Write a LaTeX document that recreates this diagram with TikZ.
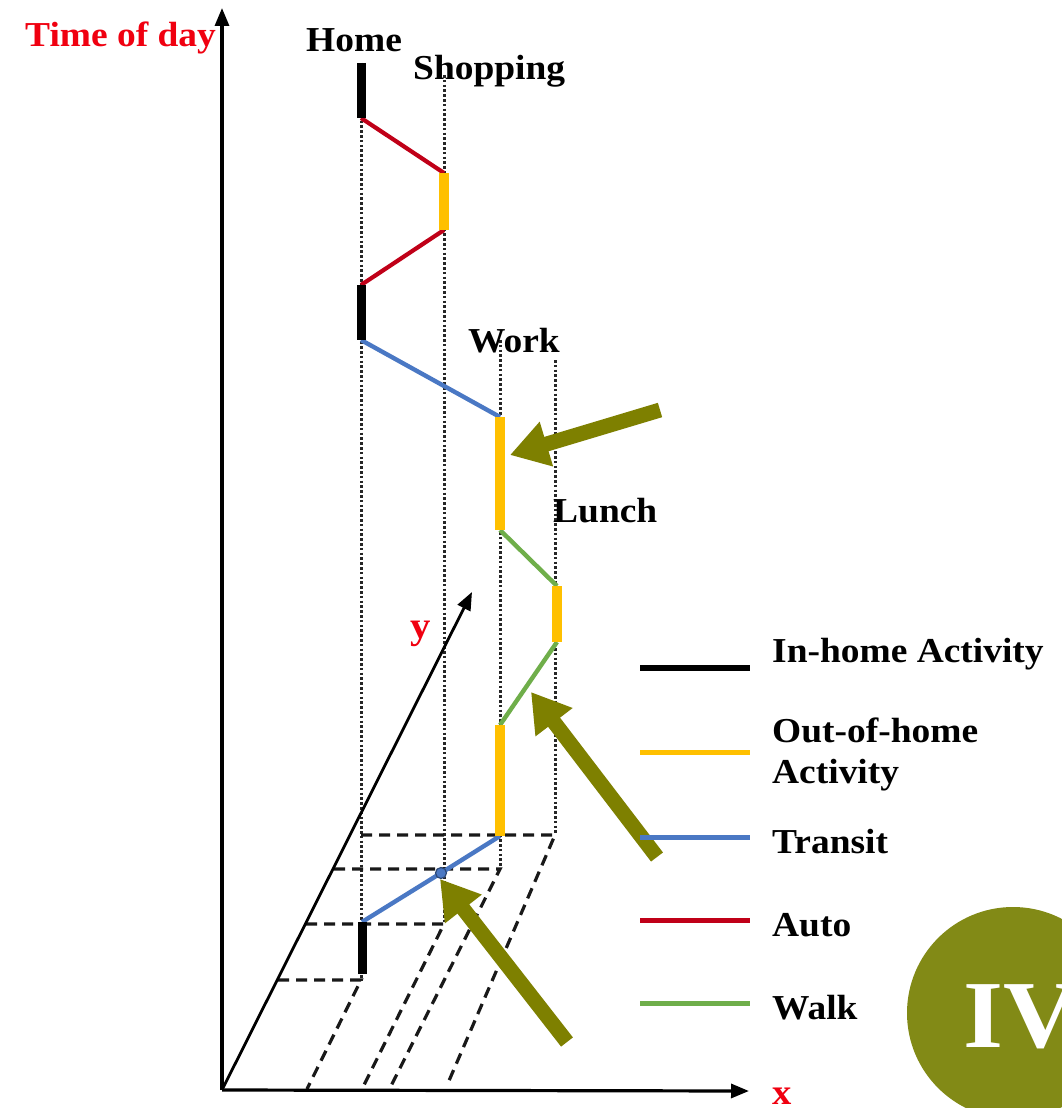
\documentclass[tikz,border=0pt]{standalone}
\usepackage{fontspec}
\usetikzlibrary{arrows.meta}
\newfontfamily\labfont{Liberation Serif}[FakeStretch=1.07]
\definecolor{autored}{HTML}{C00018}
\definecolor{transblue}{HTML}{4A78C4}
\definecolor{walkgreen}{HTML}{6FAE4A}
\definecolor{actyellow}{HTML}{FFC000}
\definecolor{olivearrow}{HTML}{7E8000}
\definecolor{olivecircle}{HTML}{828A16}
\definecolor{labred}{HTML}{F00010}
\tikzset{
  lab/.style={font=\labfont\bfseries\fontsize{35}{38}\selectfont, anchor=base west, inner sep=0pt},
  redlab/.style={lab, text=labred},
  axisline/.style={line width=3.2pt, -{Triangle[length=18pt,width=14pt]}},
  dotline/.style={line width=3pt, dash pattern=on 2.6pt off 2.2pt, black!85},
  dashline/.style={line width=3.2pt, dash pattern=on 11pt off 7pt, black!90},
  homebar/.style={line width=9pt, black},
  outbar/.style={line width=10pt, actyellow},
  autoleg/.style={line width=4.2pt, autored},
  transleg/.style={line width=4.4pt, transblue},
  walkleg/.style={line width=4.4pt, walkgreen},
  bigarrow/.style={line width=15pt, olivearrow, -{Triangle[length=38pt,width=44pt]}},
}
\begin{document}
\begin{tikzpicture}[x=1pt,y=-1pt]
\useasboundingbox (0,0) rectangle (1061,1108);
\fill[white] (0,0) rectangle (1061,1108);

% axes
\coordinate (O) at (222,1090);
\coordinate (Ytop) at (222,8);
\coordinate (Xend) at (749,1091);
\coordinate (Yend) at (472,592);

% dotted location lines
\coordinate (h0) at (361,63);   \coordinate (h9) at (361,980);
\coordinate (s0) at (444,75);   \coordinate (s9) at (444,924);
\coordinate (w0) at (500,340);  \coordinate (w9) at (500,869);
\coordinate (l0) at (555,360);  \coordinate (l9) at (555,835);
\draw[dotline] (h0) -- (h9);
\draw[dotline] (s0) -- (s9);
\draw[dotline] (w0) -- (w9);
\draw[dotline] (l0) -- (l9);

% dashed floor projections
\coordinate (ya) at (278,980);
\coordinate (yb) at (306,924);
\coordinate (yc) at (334,869);
\coordinate (yd) at (361,835);
\coordinate (xa) at (307,1089);
\coordinate (xb) at (362,1089);
\coordinate (xc) at (390,1088);
\coordinate (xd) at (448,1083);
\draw[dashline] (ya) -- (h9) -- (xa);
\draw[dashline] (yb) -- (s9) -- (xb);
\draw[dashline] (yc) -- (w9) -- (xc);
\draw[dashline] (yd) -- (l9) -- (xd);

% axes drawn over
\draw[axisline] (O) -- (Ytop);
\draw[axisline] (O) -- (Xend);
\draw[line width=2.8pt, -{Triangle[length=18pt,width=14pt]}] (O) -- (Yend);

% trip path points
\coordinate (p1) at (361,63);
\coordinate (p2) at (361,118);
\coordinate (p3) at (444,173);
\coordinate (p4) at (444,230);
\coordinate (p5) at (361,285);
\coordinate (p6) at (361,340);
\coordinate (p7) at (500,417);
\coordinate (p8) at (500,530);
\coordinate (p9) at (557,586);
\coordinate (p10) at (557,642);
\coordinate (p11) at (500,725);
\coordinate (p12) at (500,836);
\coordinate (pd) at (441,873);
\coordinate (p13) at (362,922);
\coordinate (p14) at (362,974);

% travel legs
\draw[autoleg] (p2) -- (p3);
\draw[autoleg] (p4) -- (p5);
\draw[transleg] (p6) -- (p7);
\draw[walkleg] (p8) -- (p9);
\draw[walkleg] (p10) -- (p11);
\draw[transleg] (p12) -- (pd) -- (p13);

% activity bars
\draw[homebar] (p1) -- (p2);
\draw[outbar] (p3) -- (p4);
\draw[homebar] (p5) -- (p6);
\draw[outbar] (p7) -- (p8);
\draw[outbar] (p9) -- (p10);
\draw[outbar] (p11) -- (p12);
\draw[homebar] (p13) -- (p14);

\fill[transblue, draw=transblue!60!black, line width=1.2pt] (pd) circle (5.5pt);

% labels
\node[redlab] (tod) at (25,47) {Time of day};
\node[lab] (home) at (306,52) {Home};
\node[lab] (shop) at (413,80) {Shopping};
\node[lab] (work) at (468,352) {Work};
\node[lab] (lunch) at (553,522) {Lunch};
\node[redlab, font=\labfont\bfseries\fontsize{38}{40}\selectfont] (ylab) at (410,638) {y};
\node[redlab, font=\labfont\bfseries\fontsize{36}{40}\selectfont] (xlab) at (772,1104) {x};

% highlight arrows
\coordinate (a1s) at (660,410); \coordinate (a1e) at (510,455);
\coordinate (a2s) at (657,857); \coordinate (a2e) at (531,692);
\coordinate (a3s) at (567,1042); \coordinate (a3e) at (440,879);
\draw[bigarrow] (a1s) -- (a1e);
\draw[bigarrow] (a2s) -- (a2e);
\draw[bigarrow] (a3s) -- (a3e);

% legend
\coordinate (g1a) at (640,668); \coordinate (g1b) at (750,668);
\coordinate (g2a) at (640,752); \coordinate (g2b) at (750,752);
\coordinate (g3a) at (640,837); \coordinate (g3b) at (750,837);
\coordinate (g4a) at (640,920); \coordinate (g4b) at (750,920);
\coordinate (g5a) at (640,1003); \coordinate (g5b) at (750,1003);
\draw[line width=5.5pt, black] (g1a) -- (g1b);
\draw[line width=5pt, actyellow] (g2a) -- (g2b);
\draw[line width=5pt, transblue] (g3a) -- (g3b);
\draw[line width=5pt, autored] (g4a) -- (g4b);
\draw[line width=5pt, walkgreen] (g5a) -- (g5b);
\node[lab] (t1) at (772,662) {In-home Activity};
\node[lab] (t2) at (772,742) {Out-of-home};
\node[lab] (t2b) at (772,783) {Activity};
\node[lab] (t3) at (772,853) {Transit};
\node[lab] (t4) at (772,936) {Auto};
\node[lab] (t5) at (772,1019) {Walk};

% badge
\fill[olivecircle] (1013,1013) circle (106pt);
\node[lab, text=white, font=\labfont\bfseries\fontsize{96}{100}\selectfont] (badge) at (963,1047) {IV};
\end{tikzpicture}
\end{document}
